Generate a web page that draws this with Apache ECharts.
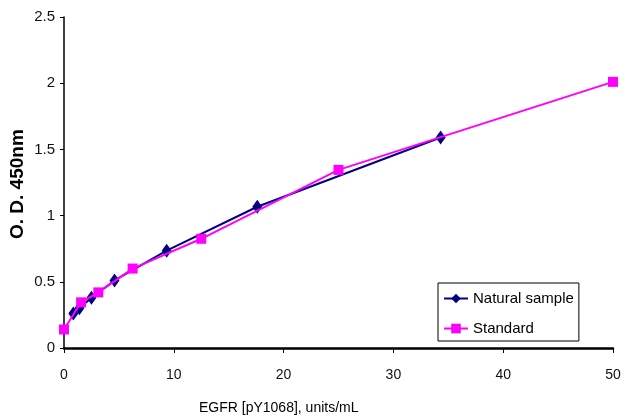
<!DOCTYPE html>
<html>
<head>
<meta charset="utf-8">
<script src="https://cdn.jsdelivr.net/npm/echarts@6/dist/echarts.min.js"></script>
<style>
html,body{margin:0;padding:0;background:#fff;}
#chart{width:626px;height:420px;}
</style>
</head>
<body>
<div id="chart"></div>
<script>
// Natural sample (x: units/mL, y: O.D.)
var naturalX = [0.85, 1.4, 2.5, 4.6, 9.35, 17.6, 34.3];
var naturalY = [0.26, 0.30, 0.38, 0.51, 0.735, 1.067, 1.59];
// Standard
var standardX = [0, 1.56, 3.125, 6.25, 12.5, 25, 50];
var standardY = [0.14, 0.345, 0.42, 0.60, 0.825, 1.345, 2.01];

var seriesNames = ['Natural sample', 'Standard'];
var xTitle = 'EGFR [pY1068], units/mL';
var yTitle = 'O. D. 450nm';

function pairs(xs, ys) { return xs.map(function (x, i) { return [x, ys[i]]; }); }

var FONT = '"Liberation Sans", Arial, sans-serif';
var chart = echarts.init(document.getElementById('chart'), null, {renderer: 'canvas'});
chart.setOption({
  animation: false,
  backgroundColor: '#ffffff',
  grid: {left: 64, right: 13, top: 17, bottom: 72, containLabel: false},
  xAxis: {
    type: 'value', min: 0, max: 50, interval: 10,
    axisLine: {show: true, onZero: false, lineStyle: {color: '#000', width: 2.5}},
    axisTick: {show: true, length: 5, inside: false, lineStyle: {color: '#000', width: 1}},
    axisLabel: {color: '#111', fontFamily: FONT, fontSize: 14, margin: 20},
    splitLine: {show: false}
  },
  yAxis: {
    type: 'value', min: 0, max: 2.5, interval: 0.5,
    axisLine: {show: true, lineStyle: {color: '#000', width: 1.5}},
    axisTick: {show: true, length: 4, inside: false, lineStyle: {color: '#000', width: 1}},
    axisLabel: {color: '#111', fontFamily: FONT, fontSize: 15, margin: 9},
    splitLine: {show: false}
  },
  legend: {
    left: 438, top: 283,
    orient: 'vertical',
    backgroundColor: '#fff',
    borderColor: '#000', borderWidth: 1,
    padding: [8, 5, 5, 5],
    itemWidth: 24, itemHeight: 12, itemGap: 15,
    textStyle: {color: '#000', fontFamily: FONT, fontSize: 15},
    data: seriesNames
  },
  graphic: [
    {type: 'text', left: 199, top: 401,
      style: {text: xTitle, fill: '#000', font: '14px ' + FONT}},
    {type: 'text', rotation: Math.PI / 2, x: 8, y: 239,
      style: {text: yTitle, fill: '#000', font: 'bold 19px ' + FONT}}
  ],
  series: [
    {
      name: seriesNames[0], type: 'line',
      data: pairs(naturalX, naturalY),
      symbol: 'diamond', symbolSize: [10, 14],
      lineStyle: {color: '#000080', width: 2},
      itemStyle: {color: '#000080'},
      z: 2
    },
    {
      name: seriesNames[1], type: 'line',
      data: pairs(standardX, standardY),
      symbol: 'rect', symbolSize: 10,
      lineStyle: {color: '#ff00ff', width: 2},
      itemStyle: {color: '#ff00ff'},
      z: 3
    }
  ]
});
</script>
</body>
</html>
